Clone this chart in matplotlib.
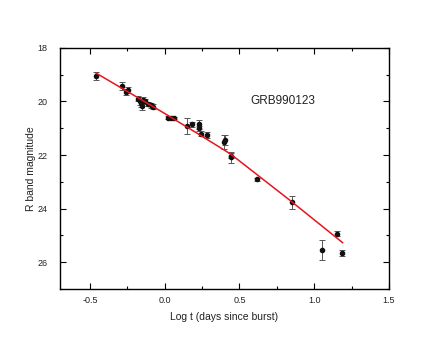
import matplotlib
matplotlib.use("Agg")
import matplotlib.pyplot as plt
from matplotlib.ticker import MultipleLocator

plt.rcParams['font.family'] = ['Liberation Sans', 'DejaVu Sans']

# Observed R-band data: log t (days), magnitude, error
log_t = [-0.458, -0.286, -0.257, -0.248, -0.179, -0.168, -0.156, -0.145, -0.134,
         -0.150, -0.112, -0.090, -0.078, 0.022, 0.045, 0.060, 0.146, 0.183,
         0.226, 0.230, 0.242, 0.280, 0.394, 0.403, 0.441, 0.445, 0.615,
         0.854, 1.154, 1.052, 1.186]
r_mag = [19.04, 19.41, 19.65, 19.57, 19.90, 20.00, 20.07, 19.93, 20.00,
         20.16, 20.09, 20.15, 20.19, 20.61, 20.61, 20.62, 20.91, 20.86,
         20.86, 21.00, 21.20, 21.25, 21.51, 21.44, 22.08, 22.02, 22.91,
         23.77, 24.93, 25.54, 25.66]
r_err = [0.15, 0.15, 0.12, 0.12, 0.10, 0.15, 0.15, 0.10, 0.10,
         0.15, 0.08, 0.08, 0.08, 0.05, 0.05, 0.05, 0.30, 0.10,
         0.15, 0.10, 0.10, 0.10, 0.25, 0.20, 0.20, 0.10, 0.06,
         0.24, 0.10, 0.36, 0.12]

# Fit curve
fit_x = [-0.46, -0.03, 0.20, 0.44, 0.64, 0.84, 1.19]
fit_y = [18.94, 20.35, 21.13, 21.96, 22.83, 23.70, 25.27]

fig = plt.figure(figsize=(4.36, 3.52), dpi=100)
ax = fig.add_axes([0.138, 0.179, 0.754, 0.685])

ax.errorbar(log_t, r_mag, yerr=r_err, fmt='o', color='#111111', ms=3.0,
            ecolor='#555555', elinewidth=0.7, capsize=2.5, capthick=0.7, zorder=3)
ax.plot(fit_x, fit_y, color='#e8141c', lw=1.1, zorder=4)

ax.set_xlim(-0.7, 1.5)
ax.set_ylim(27, 18)
ax.xaxis.set_major_locator(MultipleLocator(0.5))
ax.xaxis.set_minor_locator(MultipleLocator(0.25))
ax.yaxis.set_major_locator(MultipleLocator(2))
ax.yaxis.set_minor_locator(MultipleLocator(1))
ax.set_xticks([-0.5, 0.0, 0.5, 1.0, 1.5])
ax.set_xticklabels(['-0.5', '0.0', '0.5', '1.0', '1.5'])
ax.tick_params(which='both', direction='in', top=True, right=True, labelsize=6.5,
               width=0.8, labelcolor='#222222')
ax.tick_params(which='major', length=4)
ax.tick_params(which='minor', length=2.5)
ax.tick_params(axis='y', which='major', pad=9)
ax.tick_params(axis='x', which='major', pad=5)
for s in ax.spines.values():
    s.set_linewidth(1.0)

ax.set_xlabel('Log t (days since burst)', fontsize=7.5, labelpad=5, color='#222222')
ax.set_ylabel('R band magnitude', fontsize=7.5, labelpad=1, color='#222222')
ax.text(0.79, 20.0, 'GRB990123', fontsize=8.5, ha='center', va='center', color='#222222')

fig.savefig('out.png', dpi=100)
